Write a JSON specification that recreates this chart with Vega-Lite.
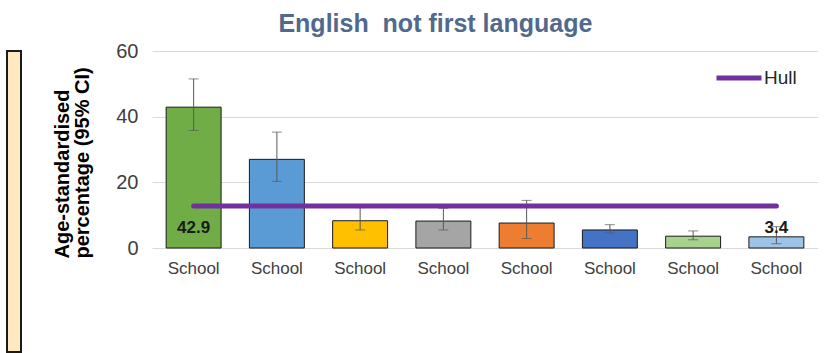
{
  "$schema": "https://vega.github.io/schema/vega-lite/v6.json",
  "background": "white",
  "padding": {"left": 6, "top": 12, "right": 0, "bottom": 0},
  "config": {"font": "Liberation Sans", "concat": {"spacing": 30}},
  "resolve": {"legend": {"stroke": "independent", "fill": "independent"}, "scale": {"stroke": "independent", "fill": "independent"}},
  "datasets": {
    "schools": [
      {"id": 1, "school": "School", "value": 42.9, "lo": 35.8, "hi": 51.5, "hull": 12.8},
      {"id": 2, "school": "School", "value": 27.0, "lo": 20.3, "hi": 35.3, "hull": 12.8},
      {"id": 3, "school": "School", "value": 8.3, "lo": 5.5, "hi": 12.3, "hull": 12.8},
      {"id": 4, "school": "School", "value": 8.2, "lo": 5.5, "hi": 12.1, "hull": 12.8},
      {"id": 5, "school": "School", "value": 7.6, "lo": 2.9, "hi": 14.5, "hull": 12.8},
      {"id": 6, "school": "School", "value": 5.5, "lo": 4.6, "hi": 7.1, "hull": 12.8},
      {"id": 7, "school": "School", "value": 3.6, "lo": 2.5, "hi": 5.2, "hull": 12.8},
      {"id": 8, "school": "School", "value": 3.4, "lo": 1.3, "hi": 6.5, "hull": 12.8}
    ]
  },
  "hconcat": [
    {
      "width": 14,
      "height": 301,
      "data": {"values": [{}]},
      "mark": {"type": "point", "opacity": 0},
      "encoding": {},
      "view": {"fill": "#FFE9C2", "stroke": "#1a1a1a", "strokeWidth": 2}
    },
    {
      "width": 666,
      "height": 197,
      "data": {"name": "schools"},
      "view": {"stroke": null},
      "title": {
        "text": "English\u00a0 not first language",
        "fontSize": 25,
        "fontWeight": "bold",
        "color": "#50698C",
        "anchor": "middle",
        "frame": "bounds",
        "offset": 4
      },
      "encoding": {
        "x": {
          "field": "id",
          "type": "ordinal",
          "scale": {"paddingInner": 0.34, "paddingOuter": 0.17},
          "axis": {
            "title": null,
            "labelExpr": "'School'",
            "labelAngle": 0,
            "labelFontSize": 17,
            "labelColor": "#404040",
            "labelPadding": 12,
            "ticks": false,
            "domain": false
          }
        }
      },
      "layer": [
        {
          "mark": {"type": "bar", "stroke": "#1a1a1a", "strokeWidth": 1},
          "encoding": {
            "y": {
              "field": "value",
              "type": "quantitative",
              "scale": {"domain": [0, 60], "nice": false},
              "axis": {
                "title": ["Age-standardised", "percentage (95% CI)"],
                "values": [0, 20, 40, 60],
                "grid": true,
                "gridColor": "#D9D9D9",
                "domain": false,
                "ticks": false,
                "labelFontSize": 20,
                "labelColor": "#404040",
                "labelPadding": 14,
                "titleFontSize": 20,
                "titleFontWeight": "bold",
                "titleColor": "#000000",
                "titlePadding": 23,
                "titleLineHeight": 20,
                "titleAnchor": "start",
                "titleAlign": "left",
                "titleY": 207
              }
            },
            "fill": {
              "field": "id",
              "type": "nominal",
              "legend": null,
              "scale": {"range": ["#70AD47", "#5B9BD5", "#FFC000", "#A5A5A5", "#ED7D31", "#4472C4", "#A9D18E", "#9DC3E6"]}
            }
          }
        },
        {
          "mark": {"type": "rule", "color": "#595959", "strokeWidth": 1},
          "encoding": {
            "y": {"field": "lo", "type": "quantitative"},
            "y2": {"field": "hi"}
          }
        },
        {
          "mark": {"type": "tick", "color": "#595959", "thickness": 1, "size": 10, "orient": "horizontal"},
          "encoding": {
            "y": {"field": "lo", "type": "quantitative"}
          }
        },
        {
          "mark": {"type": "tick", "color": "#595959", "thickness": 1, "size": 10, "orient": "horizontal"},
          "encoding": {
            "y": {"field": "hi", "type": "quantitative"}
          }
        },
        {
          "mark": {"type": "line", "strokeWidth": 5, "strokeCap": "round"},
          "encoding": {
            "y": {"field": "hull", "type": "quantitative"},
            "stroke": {
              "datum": "Hull",
              "type": "nominal",
              "scale": {"range": ["#7030A0"]},
              "legend": {
                "title": null,
                "orient": "none",
                "legendX": 562,
                "legendY": 2,
                "symbolType": "stroke",
                "symbolSize": 2025,
                "symbolStrokeWidth": 5,
                "labelFontSize": 19,
                "labelColor": "#262626",
                "labelOffset": 0
              }
            }
          }
        },
        {
          "transform": [{"filter": "datum.id == 1 || datum.id == 8"}],
          "mark": {"type": "text", "fontSize": 17, "fontWeight": "bold", "color": "#1a1a1a", "dy": -20},
          "encoding": {
            "y": {"datum": 0, "type": "quantitative"},
            "text": {"field": "value", "type": "quantitative", "format": ".1f"}
          }
        }
      ]
    }
  ]
}
